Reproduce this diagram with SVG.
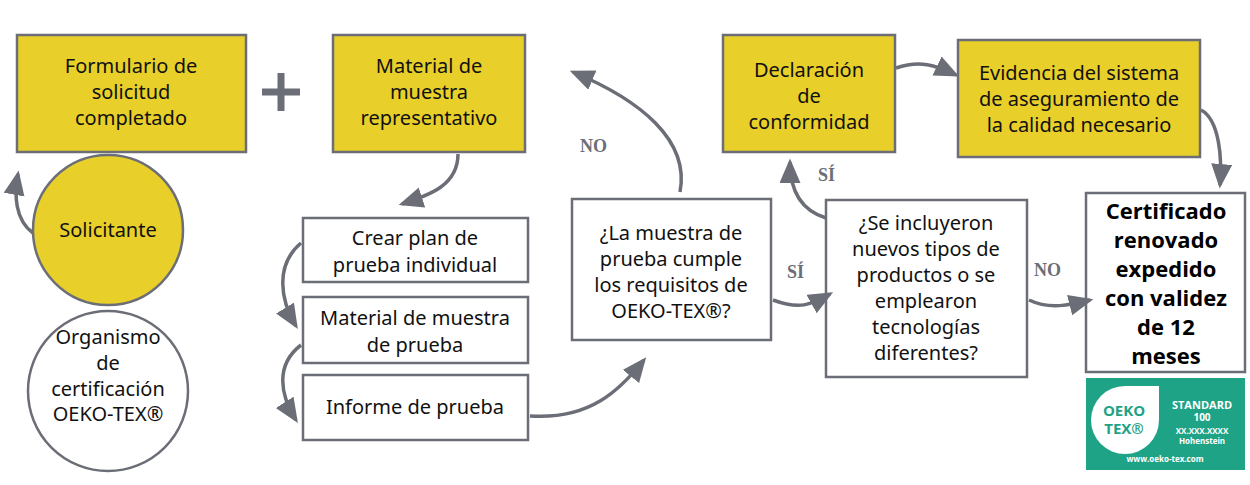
<svg xmlns="http://www.w3.org/2000/svg" width="1250" height="485" viewBox="0 0 1250 485">
<style>
.y{fill:#e8cf2a;stroke:#6b6e76;stroke-width:2.5}
.w{fill:#fff;stroke:#6b6e76;stroke-width:2.5}
.t{font-family:"Noto Sans",sans-serif;font-size:20px;fill:#111;text-anchor:middle}
.c{fill:none;stroke:#6b6e76;stroke-width:3.5}
.l{font-family:"Liberation Serif",serif;font-weight:bold;font-size:18px;fill:#6b6e76}
</style>
<defs><marker id="a" markerWidth="8" markerHeight="8" refX="6" refY="3" orient="auto" markerUnits="strokeWidth"><path d="M0,0 L7,3 L0,6 Z" fill="#6b6e76"/></marker></defs>
<rect width="1250" height="485" fill="#fff"/>
<g id="n1"><rect class="y" x="17" y="35" width="229" height="117"/><text class="t" x="131" y="73">Formulario de</text><text class="t" x="131" y="99">solicitud</text><text class="t" x="131" y="125">completado</text></g>
<g id="plus"><path d="M262,92 H300 M281,73 V111" stroke="#6b6e76" stroke-width="7"/></g>
<g id="n2"><rect class="y" x="333" y="35" width="192" height="117"/><text class="t" x="429" y="73">Material de</text><text class="t" x="429" y="99">muestra</text><text class="t" x="429" y="125">representativo</text></g>
<g id="sol"><circle class="y" cx="108" cy="230" r="75"/><text class="t" x="108" y="237" font-size="18">Solicitante</text></g>
<g id="org"><circle class="w" cx="108" cy="391" r="80"/><text class="t" x="108" y="344" font-size="18">Organismo</text><text class="t" x="108" y="370" font-size="18">de</text><text class="t" x="108" y="396" font-size="18">certificación</text><text class="t" x="108" y="421" font-size="18">OEKO-TEX®</text></g>
<g id="n3"><rect class="w" x="303" y="218" width="225" height="64"/><text class="t" x="415" y="245">Crear plan de</text><text class="t" x="415" y="272">prueba individual</text></g>
<g id="n4"><rect class="w" x="303" y="297" width="225" height="66"/><text class="t" x="415" y="325">Material de muestra</text><text class="t" x="415" y="352">de prueba</text></g>
<g id="n5"><rect class="w" x="303" y="375" width="225" height="65"/><text class="t" x="415" y="414">Informe de prueba</text></g>
<g id="n6"><rect class="w" x="572" y="199" width="199" height="141"/><text class="t" x="671" y="240">¿La muestra de</text><text class="t" x="671" y="266">prueba cumple</text><text class="t" x="671" y="292">los requisitos de</text><text class="t" x="671" y="318">OEKO-TEX®?</text></g>
<g id="n7"><rect class="y" x="723" y="35" width="172" height="117"/><text class="t" x="809" y="77">Declaración</text><text class="t" x="809" y="103">de</text><text class="t" x="809" y="129">conformidad</text></g>
<g id="n8"><rect class="y" x="958" y="40" width="242" height="117"/><text class="t" x="1079" y="80">Evidencia del sistema</text><text class="t" x="1079" y="106">de aseguramiento de</text><text class="t" x="1079" y="132">la calidad necesario</text></g>
<g id="n9"><rect class="w" x="826" y="200" width="201" height="177"/><text class="t" x="926" y="230">¿Se incluyeron</text><text class="t" x="926" y="256">nuevos tipos de</text><text class="t" x="926" y="282">productos o se</text><text class="t" x="926" y="308">emplearon</text><text class="t" x="926" y="334">tecnologías</text><text class="t" x="926" y="360">diferentes?</text></g>
<g id="n10"><rect class="w" x="1086" y="193" width="159" height="179" stroke-width="4"/><g font-family="'Open Sans',sans-serif" font-weight="bold" font-size="22" text-anchor="middle" fill="#000"><text x="1166" y="219">Certificado</text><text x="1166" y="248">renovado</text><text x="1166" y="277">expedido</text><text x="1166" y="306">con validez</text><text x="1166" y="335">de 12</text><text x="1166" y="364">meses</text></g></g>
<g id="logo"><rect x="1086" y="378" width="159" height="92" fill="#1fa386"/><path d="M1125,386 H1159 V420 A34,34 0 1 1 1125,386 Z" fill="#fff"/><g font-family="'Open Sans',sans-serif" font-weight="bold" text-anchor="middle"><text x="1124" y="416" font-size="15" fill="#1fa386">OEKO</text><text x="1124" y="434" font-size="15" fill="#1fa386">TEX®</text><g fill="#fff"><text x="1202" y="409" font-size="11">STANDARD</text><text x="1202" y="421" font-size="10">100</text><text x="1202" y="434" font-size="8">XX.XXX.XXXX</text><text x="1202" y="444" font-size="8">Hohenstein</text><text x="1165" y="462" font-size="8">www.oeko-tex.com</text></g></g></g>
<g id="connectors">
<path class="c" marker-end="url(#a)" d="M33,233 C15,220 14,195 18,174"/>
<path class="c" marker-end="url(#a)" d="M458,154 C458,185 430,195 402,204"/>
<path class="c" marker-end="url(#a)" d="M301,243 C275,265 280,300 296,326"/>
<path class="c" marker-end="url(#a)" d="M301,345 C275,365 280,395 296,420"/>
<path class="c" marker-end="url(#a)" d="M530,416 C590,420 620,390 644,360"/>
<path class="c" marker-end="url(#a)" d="M680,192 C690,140 640,100 573,72"/>
<path class="c" marker-end="url(#a)" d="M773,300 C800,310 810,305 830,294"/>
<path class="c" marker-end="url(#a)" d="M826,218 C800,210 790,190 790,162"/>
<path class="c" marker-end="url(#a)" d="M896,68 C920,60 935,65 956,75"/>
<path class="c" marker-end="url(#a)" d="M1201,110 C1220,120 1222,160 1220,185"/>
<path class="c" marker-end="url(#a)" d="M1029,300 C1050,310 1070,305 1090,300"/>
<text class="l" x="580" y="152">NO</text>
<text class="l" x="787" y="278">SÍ</text>
<text class="l" x="818" y="181">SÍ</text>
<text class="l" x="1034" y="276">NO</text>
</g>
</svg>
